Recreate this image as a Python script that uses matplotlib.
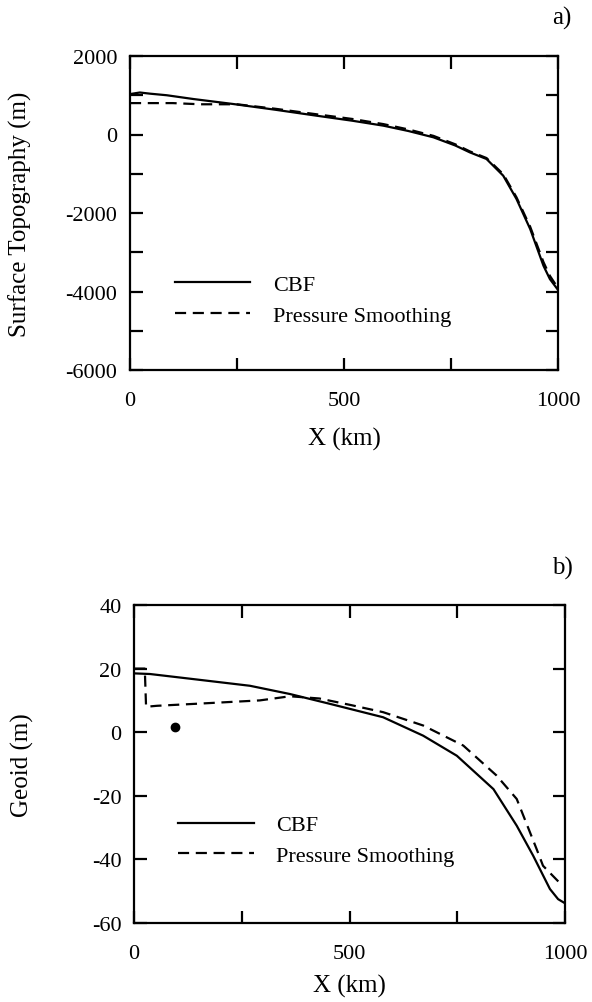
import numpy as np
import matplotlib.pyplot as plt

plt.rcParams['font.family'] = ['Liberation Serif', 'DejaVu Serif']
plt.rcParams['axes.unicode_minus'] = False

# a) surface topography (m) vs X (km)
topo_cbf_x = [0, 23, 47, 86, 148, 241, 340, 436, 520, 592, 650, 709, 760, 794, 833,
              872, 903, 935, 966, 981, 998]
topo_cbf_y = [1030, 1070, 1040, 1000, 904, 777, 630, 479, 350, 225, 90, -72, -280, -455, -624,
              -1049, -1643, -2408, -3342, -3682, -3930]
topo_ps_x = [0, 100, 164, 250, 340, 436, 520, 592, 650, 709, 760, 794, 833,
             872, 903, 935, 966, 981, 998]
topo_ps_y = [800, 800, 770, 770, 655, 515, 395, 265, 130, -35, -250, -430, -600,
             -1010, -1600, -2350, -3250, -3600, -3880]

# b) geoid (m) vs X (km)
geoid_cbf_x = [0, 37, 100, 169, 269, 362, 455, 578, 671, 749, 834, 888, 926, 965, 984, 1000]
geoid_cbf_y = [18.5, 18.3, 17.3, 16.2, 14.6, 12.0, 8.9, 4.7, -1.1, -7.4, -17.9, -29.4, -38.8,
               -49.3, -52.5, -53.8]
geoid_ps_x = [0, 25, 28, 53, 153, 292, 362, 430, 501, 578, 671, 764, 841, 888, 934, 949, 995]
geoid_ps_y = [20, 20, 8.0, 8.3, 9.0, 10.0, 11.3, 10.6, 8.6, 6.3, 2.1, -4.2, -13.6, -21, -36.7,
              -42, -48.4]

fig = plt.figure(figsize=(5.92, 10.03), dpi=100)

ax1 = fig.add_axes([130/592, 1-371/1003, 428/592, 314/1003])
ax2 = fig.add_axes([134/592, 1-924/1003, 431/592, 318/1003])

for ax in (ax1, ax2):
    ax.set_xlim(0, 1000)
    ax.set_xticks(np.arange(0, 1001, 250))
    ax.set_xticklabels(['0', '', '500', '', '1000'])
    ax.tick_params(direction='in', length=9, width=1.6, top=True, right=True,
                   labelsize=16, pad=15)
    ax.tick_params(axis='y', pad=9)
    for s in ax.spines.values():
        s.set_linewidth(1.6)

ax1.plot(topo_cbf_x, topo_cbf_y, color='black', lw=1.6, label='CBF')
ax1.plot(topo_ps_x, topo_ps_y, color='black', lw=1.6, dashes=(5, 3), label='Pressure Smoothing')
ax1.set_ylim(-6000, 2000)
ax1.set_yticks(np.arange(-6000, 2001, 1000))
ax1.set_yticklabels(['-6000', '', '-4000', '', '-2000', '', '0', '', '2000'])
ax1.legend(loc='center left', bbox_to_anchor=(0.105, 0.223), frameon=False, fontsize=16,
           handlelength=3.4, handletextpad=1.0, borderpad=0, borderaxespad=0,
           labelspacing=0.45)
ax1.set_xlabel('X (km)', fontsize=18, labelpad=12)

ax2.plot(geoid_cbf_x, geoid_cbf_y, color='black', lw=1.6, label='CBF')
ax2.plot(geoid_ps_x, geoid_ps_y, color='black', lw=1.6, dashes=(5, 3), label='Pressure Smoothing')
ax2.plot([95], [1.6], marker='o', ms=6, color='black')
ax2.set_ylim(-60, 40)
ax2.set_yticks(np.arange(-60, 41, 20))
ax2.legend(loc='center left', bbox_to_anchor=(0.102, 0.26), frameon=False, fontsize=16,
           handlelength=3.4, handletextpad=1.0, borderpad=0, borderaxespad=0,
           labelspacing=0.45)
ax2.set_xlabel('X (km)', fontsize=18, labelpad=8)

fig.text(20/592, 1-214/1003, 'Surface Topography (m)', fontsize=18, rotation=90,
         ha='center', va='center')
fig.text(22/592, 1-765/1003, 'Geoid (m)', fontsize=18, rotation=90,
         ha='center', va='center')

fig.text(562/592, 1-18/1003, 'a)', fontsize=18, ha='center', va='center')
fig.text(562/592, 1-568/1003, 'b)', fontsize=18, ha='center', va='center')

fig.savefig('out.png', dpi=100)
